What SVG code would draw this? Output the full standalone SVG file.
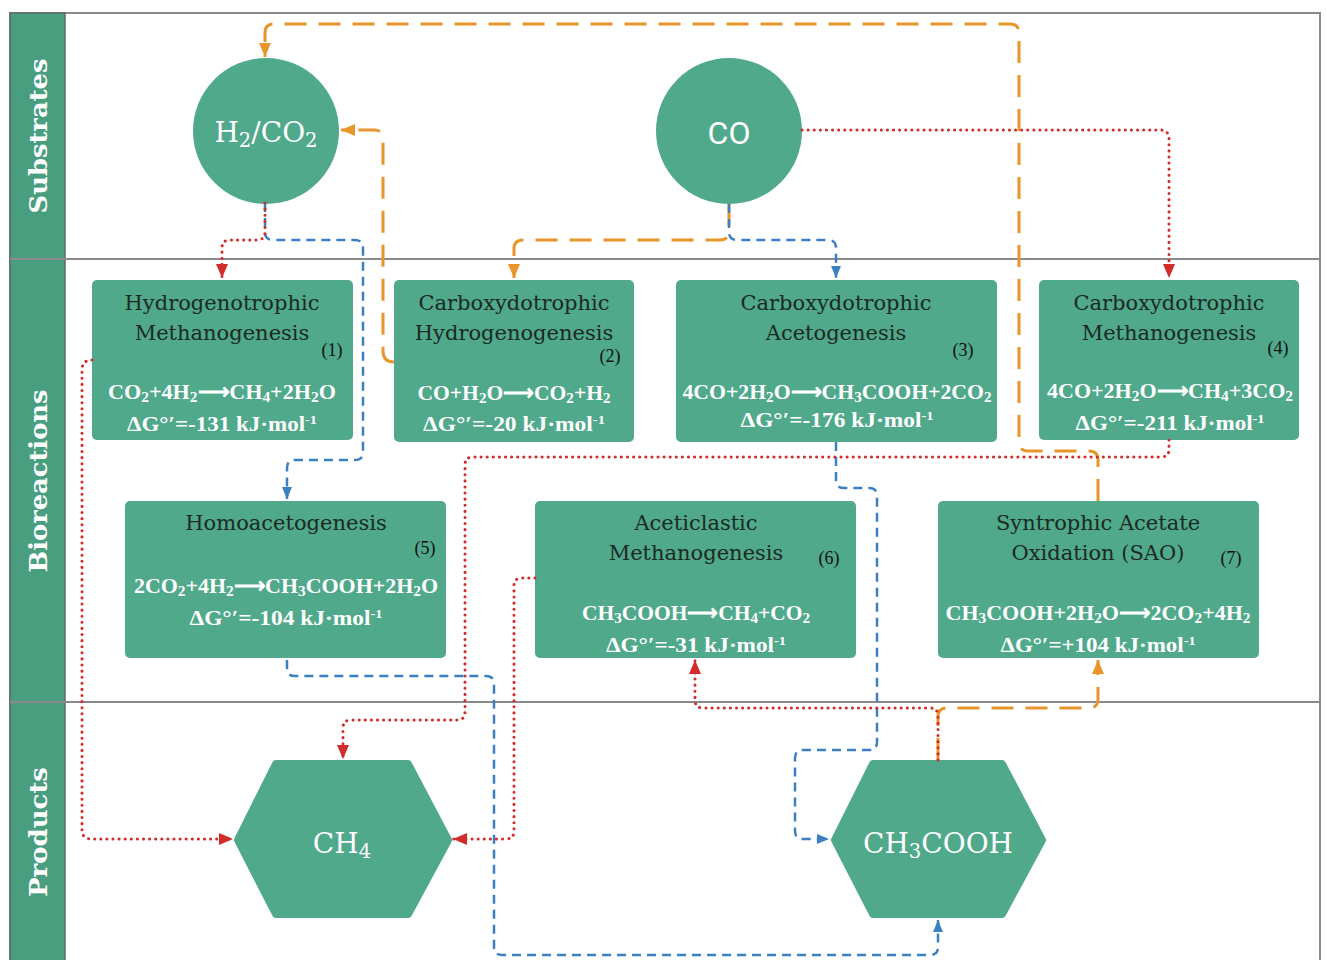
<svg xmlns="http://www.w3.org/2000/svg" width="1327" height="960" viewBox="0 0 1327 960">
<defs>
<style>
.frame{fill:#fff;stroke:#8a8a8a;stroke-width:2}
.div{stroke:#8a8a8a;stroke-width:2}
.strip{fill:#4a9e80;stroke:#5f6b66;stroke-width:1.5}
.lane{font-family:"DejaVu Serif",serif;font-weight:bold;font-size:25px;fill:#fff;text-anchor:middle}
.node{fill:#4fa98a}
.hex{fill:#4fa98a;stroke:#4fa98a;stroke-width:8;stroke-linejoin:round}
.ttl{font-family:"DejaVu Serif",serif;font-size:21px;fill:#1c2a24;text-anchor:middle}
.eq{font-family:"Liberation Serif",serif;font-weight:bold;font-size:21px;fill:#fff;text-anchor:middle}
.num{font-family:"Liberation Serif",serif;font-size:18px;fill:#111;text-anchor:middle}
.big{font-family:"DejaVu Serif",serif;font-size:28px;fill:#fff;text-anchor:middle}
.bigs{font-family:"Liberation Sans Narrow",Roboto,sans-serif;font-size:32px;fill:#fff;text-anchor:middle}
.s{font-size:70%;baseline-shift:-3px}
.sb{font-size:70%;baseline-shift:-5px}
.u{font-size:62%;baseline-shift:super}
.or{fill:none;stroke:#e8952b;stroke-width:3;stroke-dasharray:22 12}
.bl{fill:none;stroke:#3b80c2;stroke-width:2.5;stroke-dasharray:9 6}
.rd{fill:none;stroke:#d22b2b;stroke-width:3;stroke-dasharray:0.1 6;stroke-linecap:round}
</style>
<marker id="aO" markerUnits="userSpaceOnUse" markerWidth="16" markerHeight="14" refX="14" refY="7" orient="auto"><path d="M0,1 L14,7 L0,13 z" fill="#e8952b"/></marker>
<marker id="aR" markerUnits="userSpaceOnUse" markerWidth="16" markerHeight="14" refX="14" refY="7" orient="auto"><path d="M0,1 L14,7 L0,13 z" fill="#d22b2b"/></marker>
<marker id="aB" markerUnits="userSpaceOnUse" markerWidth="14" markerHeight="12" refX="12" refY="6" orient="auto"><path d="M0,1 L12,6 L0,11 z" fill="#3b80c2"/></marker>
</defs>

<g id="lanes">
<rect class="frame" x="10" y="13" width="1310" height="960"/>
<rect class="strip" x="10" y="13" width="55" height="960"/>
<line class="div" x1="10" y1="259" x2="1320" y2="259"/>
<line class="div" x1="10" y1="702" x2="1320" y2="702"/>
<text class="lane" transform="translate(47,136) rotate(-90)" textLength="155" lengthAdjust="spacingAndGlyphs">Substrates</text>
<text class="lane" transform="translate(47,481) rotate(-90)" textLength="183" lengthAdjust="spacingAndGlyphs">Bioreactions</text>
<text class="lane" transform="translate(47,832) rotate(-90)" textLength="130" lengthAdjust="spacingAndGlyphs">Products</text>
</g>

<g id="h2co2">
<circle class="node" cx="266" cy="131" r="73"/>
<text class="big" x="266" y="142" font-size="29">H<tspan class="sb">2</tspan>/CO<tspan class="sb">2</tspan></text>
</g>
<g id="co">
<circle class="node" cx="729" cy="131" r="73"/>
<text class="bigs" x="729" y="144">CO</text>
</g>

<g id="r1">
<rect class="node" x="92" y="280" width="261" height="160" rx="5"/>
<text class="ttl" x="222" y="310">Hydrogenotrophic</text>
<text class="ttl" x="222" y="340">Methanogenesis</text>
<text class="num" x="332" y="356">(1)</text>
<text class="eq" x="222" y="399" textLength="228" lengthAdjust="spacingAndGlyphs">CO<tspan class="s">2</tspan>+4H<tspan class="s">2</tspan>⟶CH<tspan class="s">4</tspan>+2H<tspan class="s">2</tspan>O</text>
<text class="eq" x="222" y="431" textLength="190" lengthAdjust="spacingAndGlyphs">ΔG°′=-131 kJ·mol<tspan class="u">-1</tspan></text>
</g>
<g id="r2">
<rect class="node" x="394" y="280" width="240" height="162" rx="5"/>
<text class="ttl" x="514" y="310">Carboxydotrophic</text>
<text class="ttl" x="514" y="340">Hydrogenogenesis</text>
<text class="num" x="610" y="362">(2)</text>
<text class="eq" x="514" y="400" textLength="193" lengthAdjust="spacingAndGlyphs">CO+H<tspan class="s">2</tspan>O⟶CO<tspan class="s">2</tspan>+H<tspan class="s">2</tspan></text>
<text class="eq" x="514" y="431" textLength="182" lengthAdjust="spacingAndGlyphs">ΔG°′=-20 kJ·mol<tspan class="u">-1</tspan></text>
</g>
<g id="r3">
<rect class="node" x="676" y="280" width="321" height="162" rx="5"/>
<text class="ttl" x="836" y="310">Carboxydotrophic</text>
<text class="ttl" x="836" y="340">Acetogenesis</text>
<text class="num" x="963" y="356">(3)</text>
<text class="eq" x="837" y="399" textLength="309" lengthAdjust="spacingAndGlyphs">4CO+2H<tspan class="s">2</tspan>O⟶CH<tspan class="s">3</tspan>COOH+2CO<tspan class="s">2</tspan></text>
<text class="eq" x="837" y="427" textLength="193" lengthAdjust="spacingAndGlyphs">ΔG°′=-176 kJ·mol<tspan class="u">-1</tspan></text>
</g>
<g id="r4">
<rect class="node" x="1039" y="280" width="260" height="160" rx="5"/>
<text class="ttl" x="1169" y="310">Carboxydotrophic</text>
<text class="ttl" x="1169" y="340">Methanogenesis</text>
<text class="num" x="1278" y="354">(4)</text>
<text class="eq" x="1170" y="398" textLength="246" lengthAdjust="spacingAndGlyphs">4CO+2H<tspan class="s">2</tspan>O⟶CH<tspan class="s">4</tspan>+3CO<tspan class="s">2</tspan></text>
<text class="eq" x="1170" y="430" textLength="189" lengthAdjust="spacingAndGlyphs">ΔG°′=-211 kJ·mol<tspan class="u">-1</tspan></text>
</g>
<g id="r5">
<rect class="node" x="125" y="501" width="321" height="157" rx="5"/>
<text class="ttl" x="286" y="530">Homoacetogenesis</text>
<text class="num" x="425" y="554">(5)</text>
<text class="eq" x="286" y="593" textLength="304" lengthAdjust="spacingAndGlyphs">2CO<tspan class="s">2</tspan>+4H<tspan class="s">2</tspan>⟶CH<tspan class="s">3</tspan>COOH+2H<tspan class="s">2</tspan>O</text>
<text class="eq" x="286" y="625" textLength="193" lengthAdjust="spacingAndGlyphs">ΔG°′=-104 kJ·mol<tspan class="u">-1</tspan></text>
</g>
<g id="r6">
<rect class="node" x="535" y="501" width="321" height="157" rx="5"/>
<text class="ttl" x="696" y="530">Aceticlastic</text>
<text class="ttl" x="696" y="560">Methanogenesis</text>
<text class="num" x="829" y="564">(6)</text>
<text class="eq" x="696" y="620" textLength="228" lengthAdjust="spacingAndGlyphs">CH<tspan class="s">3</tspan>COOH⟶CH<tspan class="s">4</tspan>+CO<tspan class="s">2</tspan></text>
<text class="eq" x="696" y="652" textLength="180" lengthAdjust="spacingAndGlyphs">ΔG°′=-31 kJ·mol<tspan class="u">-1</tspan></text>
</g>
<g id="r7">
<rect class="node" x="938" y="501" width="321" height="157" rx="5"/>
<text class="ttl" x="1098" y="530">Syntrophic Acetate</text>
<text class="ttl" x="1098" y="560">Oxidation (SAO)</text>
<text class="num" x="1231" y="564">(7)</text>
<text class="eq" x="1098" y="620" textLength="305" lengthAdjust="spacingAndGlyphs">CH<tspan class="s">3</tspan>COOH+2H<tspan class="s">2</tspan>O⟶2CO<tspan class="s">2</tspan>+4H<tspan class="s">2</tspan></text>
<text class="eq" x="1098" y="652" textLength="195" lengthAdjust="spacingAndGlyphs">ΔG°′=+104 kJ·mol<tspan class="u">-1</tspan></text>
</g>

<g id="ch4">
<polygon class="hex" points="238,840 276,764 408,764 448,840 408,914 276,914"/>
<text class="big" x="342" y="853">CH<tspan class="sb">4</tspan></text>
</g>
<g id="ch3cooh">
<polygon class="hex" points="835,840 873,764 1002,764 1042,840 1002,914 873,914"/>
<text class="big" x="938" y="853">CH<tspan class="sb">3</tspan>COOH</text>
</g>

<g id="connectors">
<path class="or" d="M1098,501 V460 Q1098,451 1089,451 H1028 Q1019,451 1019,442 V33 Q1019,24 1010,24 H274 Q265,24 265,33 V57" marker-end="url(#aO)"/>
<path class="or" d="M394,362 Q383,362 383,351 V139 Q383,130 374,130 H341" marker-end="url(#aO)"/>
<path class="or" d="M729,204 V231 Q729,240 720,240 H523 Q514,240 514,249 V278" marker-end="url(#aO)"/>
<path class="or" d="M938,760 V717 Q938,708 947,708 H1089 Q1098,708 1098,699 V660" marker-end="url(#aO)"/>
<path class="bl" d="M265,203 V232 Q265,240 273,240 H355 Q363,240 363,248 V452 Q363,460 355,460 H295 Q287,460 287,468 V499" marker-end="url(#aB)"/>
<path class="bl" d="M729,204 V232 Q729,240 737,240 H828 Q836,240 836,248 V278" marker-end="url(#aB)"/>
<path class="bl" d="M836,442 V480 Q836,488 844,488 H869 Q877,488 877,496 V742 Q877,750 869,750 H803 Q795,750 795,758 V831 Q795,839 803,839 H829" marker-end="url(#aB)"/>
<path class="bl" d="M287,660 V668 Q287,676 295,676 H486 Q494,676 494,684 V947 Q494,955 502,955 H930 Q938,955 938,947 V920" marker-end="url(#aB)"/>
<path class="rd" d="M802,130 H1160 Q1169,130 1169,139 V278" marker-end="url(#aR)"/>
<path class="rd" d="M265,203 V232 Q265,240 257,240 H230 Q222,240 222,248 V278" marker-end="url(#aR)"/>
<path class="rd" d="M92,360 Q82,360 82,370 V830 Q82,839 92,839 H233" marker-end="url(#aR)"/>
<path class="rd" d="M1169,440 V449 Q1169,457 1161,457 H473 Q465,457 465,465 V712 Q465,720 457,720 H351 Q343,720 343,728 V759" marker-end="url(#aR)"/>
<path class="rd" d="M535,578 H522 Q514,578 514,586 V831 Q514,839 506,839 H453" marker-end="url(#aR)"/>
<path class="rd" d="M938,760 V716 Q938,708 930,708 H703 Q695,708 695,700 V660" marker-end="url(#aR)"/>
</g>
</svg>
